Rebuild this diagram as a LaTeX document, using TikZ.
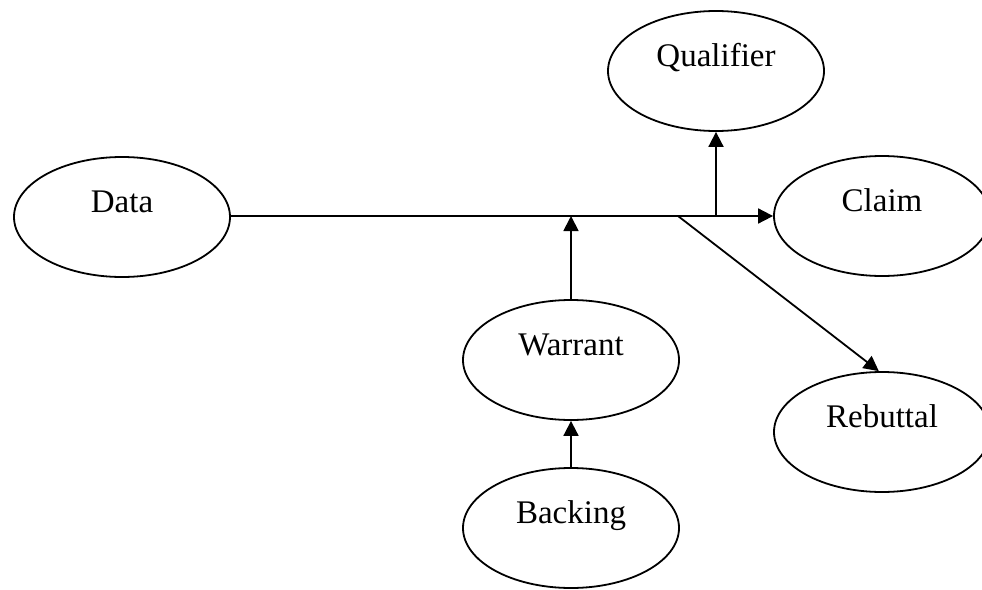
\documentclass[tikz,border=0pt]{standalone}
\usepackage{fontspec}
\setmainfont{Liberation Serif}
\usetikzlibrary{shapes.geometric,arrows.meta}
\begin{document}
\begin{tikzpicture}[x=1pt,y=-1pt,
  oval/.style={draw, line width=1.8pt, ellipse, minimum width=216pt, minimum height=120pt, inner sep=0pt,
    font=\fontsize{33pt}{33pt}\selectfont, text height=22pt, text depth=32pt},
  conn/.style={line width=1.8pt},
  arr/.style={conn, -{Triangle[length=15pt,width=15pt]}}]
\useasboundingbox (0,0) rectangle (982,589);
\clip (0,0) rectangle (982,589);
\node[oval] (data) at (122,217) {Data};
\node[oval] (qual) at (716,71) {Qualifier};
\node[oval] (claim) at (882,216) {Claim};
\node[oval] (warrant) at (571,360) {Warrant};
\node[oval] (backing) at (571,528) {Backing};
\node[oval] (rebuttal) at (882,432) {Rebuttal};
\coordinate (q) at (716,216);
\coordinate (w) at (571,216);
\coordinate (r) at (678,216);
\coordinate (d) at (data.east |- w);
\draw[arr] (d) -- (claim.west);
\draw[arr] (q) -- (qual.south);
\draw[arr] (warrant.north) -- (w);
\draw[arr] (backing.north) -- (warrant.south);
\draw[arr] (r) -- (rebuttal.93);
\end{tikzpicture}
\end{document}
